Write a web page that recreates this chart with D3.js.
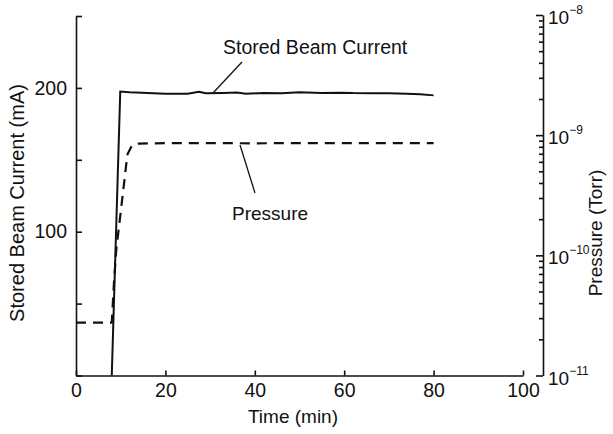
<!DOCTYPE html>
<html>
<head>
<meta charset="utf-8">
<script src="https://cdn.jsdelivr.net/npm/d3@7"></script>
<style>
  body { margin: 0; background: #fff; }
  svg text { font-family: "Liberation Sans", Arial, Helvetica, sans-serif; fill: #111; }
</style>
</head>
<body>
<div id="chart"></div>
<script>
// stored beam current (mA) vs time (min)
var currentTime = [8, 9.9, 12, 16, 20, 25, 27.5, 29, 33, 36, 38, 42, 46, 50, 55, 59, 62, 66, 70, 74, 77, 80];
var currentValues = [0, 197.5, 197, 196.5, 196, 196, 197.3, 196.3, 196.5, 196.8, 196, 196.4, 196.2, 197, 196.5, 196.7, 196.4, 196.3, 196.2, 196, 195.6, 194.8];

// pressure (Torr) vs time (min)
var pressureTime = [0, 8, 8.5, 9, 11.5, 12.5, 14, 20, 30, 40, 50, 60, 70, 80];
var pressureValues = [2.75e-11, 2.75e-11, 6e-11, 1.1e-10, 6.9e-10, 8.2e-10, 8.5e-10, 8.6e-10, 8.6e-10, 8.55e-10, 8.6e-10, 8.6e-10, 8.6e-10, 8.6e-10];

var xTicks = [0, 20, 40, 60, 80, 100];
var leftTicks = [0, 50, 100, 150, 200, 250];
var leftLabels = [100, 200];
var rightMajor = [1e-11, 1e-10, 1e-9, 1e-8];
var rightExponents = ["-11", "-10", "-9", "-8"];

var svgWidth = 613;
var svgHeight = 434;

var svg = d3.select("#chart")
  .append("svg")
  .attr("width", svgWidth)
  .attr("height", svgHeight);

var x = d3.scaleLinear().domain([0, 100]).range([76, 523]);
var yLeft = d3.scaleLinear().domain([0, 250]).range([375.5, 16]);
var yRight = d3.scaleLog().domain([1e-11, 1e-8]).range([375.5, 15]);
var rightX = 543;

// bottom axis
var bottomAxis = d3.axisBottom(x)
  .tickValues(xTicks)
  .tickSizeInner(-5)
  .tickSizeOuter(0)
  .tickPadding(8);
var gx = svg.append("g")
  .attr("transform", "translate(0,375.5)")
  .call(bottomAxis);

// left axis
var leftAxis = d3.axisLeft(yLeft)
  .tickValues(leftTicks)
  .tickSizeInner(-6)
  .tickSizeOuter(0)
  .tickPadding(9)
  .tickFormat(d => leftLabels.includes(d) ? d : "");
var gl = svg.append("g")
  .attr("transform", "translate(76,0)")
  .call(leftAxis);

// right log axis with minor ticks
var rightTicks = [];
rightMajor.slice(0, 3).forEach(function(m) {
  for (var k = 1; k < 10; k++) rightTicks.push(m * k);
});
rightTicks.push(1e-8);
var rightAxis = d3.axisRight(yRight)
  .tickValues(rightTicks)
  .tickSizeInner(-4)
  .tickSizeOuter(0)
  .tickFormat("");
var gr = svg.append("g")
  .attr("transform", "translate(" + rightX + ",0)")
  .call(rightAxis);
gr.selectAll(".tick line")
  .attr("x2", d => rightMajor.some(m => Math.abs(m - d) / m < 1e-6) ? -7 : -4);

[gx, gl, gr].forEach(function(g) {
  g.selectAll("path, line").attr("stroke", "#111").attr("stroke-width", 1.6);
  g.selectAll("text").attr("font-size", 19.5).attr("fill", "#111");
});

// right tick labels with superscripts
var rl = svg.append("g").selectAll("text")
  .data(rightMajor)
  .enter()
  .append("text")
  .attr("x", rightX + 5)
  .attr("y", d => yRight(d) + 9)
  .attr("font-size", 19);
rl.append("tspan").text("10");
rl.append("tspan")
  .attr("font-size", 12)
  .attr("dy", -10)
  .text((d, i) => "\u2212" + rightExponents[i].slice(1));

// lines
var currentData = currentTime.map((t, i) => [t, currentValues[i]]);
var pressureData = pressureTime.map((t, i) => [t, pressureValues[i]]);

svg.append("path")
  .datum(currentData)
  .attr("fill", "none")
  .attr("stroke", "#111")
  .attr("stroke-width", 2)
  .attr("d", d3.line().x(d => x(d[0])).y(d => yLeft(d[1])));

svg.append("path")
  .datum(pressureData)
  .attr("fill", "none")
  .attr("stroke", "#111")
  .attr("stroke-width", 2.2)
  .attr("stroke-dasharray", "10,7")
  .attr("d", d3.line().x(d => x(d[0])).y(d => yRight(d[1])));

// annotations
svg.append("text")
  .attr("x", 223)
  .attr("y", 54)
  .attr("font-size", 19.5)
  .text("Stored Beam Current");
svg.append("line")
  .attr("x1", 242).attr("y1", 62)
  .attr("x2", 213).attr("y2", 93)
  .attr("stroke", "#111").attr("stroke-width", 1.3);

svg.append("text")
  .attr("x", 232)
  .attr("y", 220)
  .attr("font-size", 19)
  .text("Pressure");
svg.append("line")
  .attr("x1", 240).attr("y1", 145)
  .attr("x2", 255).attr("y2", 193)
  .attr("stroke", "#111").attr("stroke-width", 1.3);

// axis titles
svg.append("text")
  .attr("transform", "translate(24,203) rotate(-90)")
  .attr("text-anchor", "middle")
  .attr("font-size", 20)
  .text("Stored Beam Current (mA)");

svg.append("text")
  .attr("transform", "translate(602,233) rotate(-90)")
  .attr("text-anchor", "middle")
  .attr("font-size", 19)
  .text("Pressure (Torr)");

svg.append("text")
  .attr("x", 293)
  .attr("y", 423)
  .attr("text-anchor", "middle")
  .attr("font-size", 19)
  .text("Time (min)");
</script>
</body>
</html>
